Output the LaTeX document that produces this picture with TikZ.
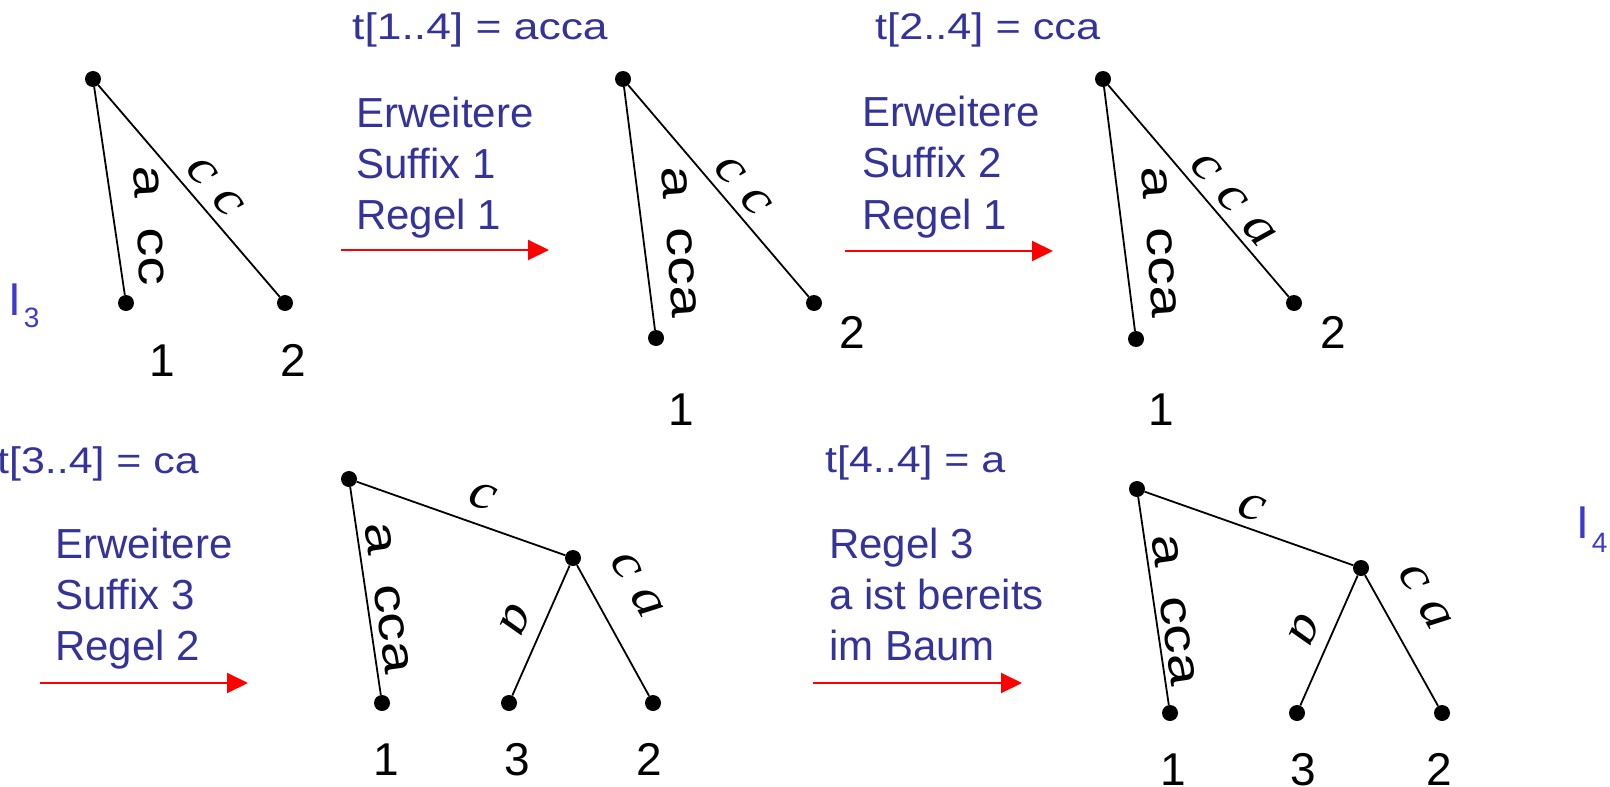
\documentclass[tikz,border=0pt]{standalone}
\usepackage{fontspec}
\setmainfont{Liberation Serif}
\newfontfamily\sansf{Liberation Sans}
\usetikzlibrary{arrows.meta}
\definecolor{txtblue}{RGB}{51,51,153}
\definecolor{idxblue}{RGB}{58,58,204}
\definecolor{arrowred}{RGB}{255,0,0}

\begin{document}
\begin{tikzpicture}[x=1pt,y=-1pt,
  dot/.style={circle,fill=black,inner sep=0pt,minimum size=16pt},
  edge/.style={line width=1.8pt},
  stepline/.style={draw=arrowred,line width=2pt,-{Triangle[length=21pt,width=20pt]}},
  hdr/.style={anchor=base west,inner sep=0pt,text=txtblue,font=\sansf\fontsize{37}{44}\selectfont},
  note/.style={anchor=base west,inner sep=0pt,text=txtblue,font=\sansf\fontsize{42}{50}\selectfont},
  leafnum/.style={anchor=base,inner sep=0pt,font=\sansf\fontsize{46}{54}\selectfont},
  vlab/.style={anchor=west,inner sep=0pt,font=\sansf\fontsize{46}{50}\selectfont},
  ilab/.style={inner sep=0pt,font=\fontsize{52}{56}\selectfont\itshape},
  idx/.style={anchor=base west,inner sep=0pt,text=idxblue,font=\sansf\fontsize{46}{50}\selectfont},
]
\useasboundingbox (0,0) rectangle (1610,787);
\clip (0,0) rectangle (1610,787);

% ---------- tree I3 ----------
\node[dot] (t1r) at (93,79) {};
\node[dot] (t1a) at (126,303) {};
\node[dot] (t1b) at (285,303) {};
\draw[edge] (t1r) -- (t1a);
\draw[edge] (t1r) -- (t1b);
\node[vlab,rotate=-87] (t1la) at (146,166) {\scalebox{1.25}[1]{a\hspace{0.52em}cc}};
\node[ilab,rotate=-49.5] (t1lb) at (215,187) {\scalebox{1.12}[1]{c c}};
\node[leafnum] (t1na) at (162,376) {1};
\node[leafnum] (t1nb) at (293,376) {2};
\node[idx] (i3) at (8,315) {I\kern3pt\raisebox{-12pt}{\fontsize{28}{30}\selectfont 3}};

% ---------- step 1 ----------
\node[hdr] (h1) at (352,39) {\scalebox{1.2}[1]{t[1..4] = acca}};
\node[note] (s1a) at (356,127) {Erweitere};
\node[note] (s1b) at (356,178) {Suffix 1};
\node[note] (s1c) at (356,229) {Regel 1};
\coordinate (a1s) at (341,250);
\coordinate (a1e) at (549,250);
\draw[stepline] (a1s) -- (a1e);

% ---------- tree after suffix 1 ----------
\node[dot] (t2r) at (623,79) {};
\node[dot] (t2a) at (656,338) {};
\node[dot] (t2b) at (814,303) {};
\draw[edge] (t2r) -- (t2a);
\draw[edge] (t2r) -- (t2b);
\node[vlab,rotate=-86] (t2la) at (674,166) {\scalebox{1.25}[1]{a\hspace{0.52em}cca}};
\node[ilab,rotate=-49.5] (t2lb) at (743,186) {\scalebox{1.12}[1]{c c}};
\node[leafnum] (t2na) at (681,425) {1};
\node[leafnum] (t2nb) at (852,348) {2};

% ---------- step 2 ----------
\node[hdr] (h2) at (875,39) {\scalebox{1.17}[1]{t[2..4] = cca}};
\node[note] (s2a) at (862,126) {Erweitere};
\node[note] (s2b) at (862,177) {Suffix 2};
\node[note] (s2c) at (862,229) {Regel 1};
\coordinate (a2s) at (845,251);
\coordinate (a2e) at (1053,251);
\draw[stepline] (a2s) -- (a2e);

% ---------- tree after suffix 2 ----------
\node[dot] (t3r) at (1103,79) {};
\node[dot] (t3a) at (1136,339) {};
\node[dot] (t3b) at (1294,303) {};
\draw[edge] (t3r) -- (t3a);
\draw[edge] (t3r) -- (t3b);
\node[vlab,rotate=-86] (t3la) at (1154,166) {\scalebox{1.25}[1]{a\hspace{0.52em}cca}};
\node[ilab,rotate=-49.5] (t3lb) at (1233,200) {\scalebox{1.12}[1]{c c a}};
\node[leafnum] (t3na) at (1161,425) {1};
\node[leafnum] (t3nb) at (1333,348) {2};

% ---------- step 3 ----------
\node[hdr] (h3) at (-3,473) {\scalebox{1.16}[1]{t[3..4] = ca}};
\node[note] (s3a) at (55,558) {Erweitere};
\node[note] (s3b) at (55,609) {Suffix 3};
\node[note] (s3c) at (55,660) {Regel 2};
\coordinate (a3s) at (40,683);
\coordinate (a3e) at (248,683);
\draw[stepline] (a3s) -- (a3e);

% ---------- tree after suffix 3 ----------
\node[dot] (t4r) at (349,479) {};
\node[dot] (t4i) at (573,558) {};
\node[dot] (t4a) at (382,703) {};
\node[dot] (t4c) at (509,703) {};
\node[dot] (t4b) at (653,703) {};
\draw[edge] (t4r) -- (t4a);
\draw[edge] (t4r) -- (t4i);
\draw[edge] (t4i) -- (t4c);
\draw[edge] (t4i) -- (t4b);
\node[vlab,rotate=-82] (t4la) at (377,523) {\scalebox{1.25}[1]{a\hspace{0.52em}cca}};
\node[ilab,rotate=-19.4] (t4li) at (483,496) {\scalebox{1.12}[1]{c}};
\node[ilab,rotate=-113.8] (t4lc) at (516,620) {\scalebox{1.12}[1]{a}};
\node[ilab,rotate=-61] (t4lb) at (637,585) {\scalebox{1.12}[1]{c a}};
\node[leafnum] (t4na) at (386,775) {1};
\node[leafnum] (t4nc) at (517,775) {3};
\node[leafnum] (t4nb) at (649,775) {2};

% ---------- step 4 ----------
\node[hdr] (h4) at (825,472) {\scalebox{1.16}[1]{t[4..4] = a}};
\node[note] (s4a) at (829,558) {Regel 3};
\node[note] (s4b) at (829,609) {a ist bereits};
\node[note] (s4c) at (829,660) {im Baum};
\coordinate (a4s) at (813,683);
\coordinate (a4e) at (1022,683);
\draw[stepline] (a4s) -- (a4e);

% ---------- tree I4 ----------
\node[dot] (t5r) at (1137,489) {};
\node[dot] (t5i) at (1361,568) {};
\node[dot] (t5a) at (1170,713) {};
\node[dot] (t5c) at (1297,713) {};
\node[dot] (t5b) at (1442,713) {};
\draw[edge] (t5r) -- (t5a);
\draw[edge] (t5r) -- (t5i);
\draw[edge] (t5i) -- (t5c);
\draw[edge] (t5i) -- (t5b);
\node[vlab,rotate=-82] (t5la) at (1163,535) {\scalebox{1.25}[1]{a\hspace{0.52em}cca}};
\node[ilab,rotate=-19.4] (t5li) at (1252,507) {\scalebox{1.12}[1]{c}};
\node[ilab,rotate=-113.8] (t5lc) at (1305,630) {\scalebox{1.12}[1]{a}};
\node[ilab,rotate=-60.8] (t5lb) at (1425,597) {\scalebox{1.12}[1]{c a}};
\node[leafnum] (t5na) at (1173,785) {1};
\node[leafnum] (t5nc) at (1303,785) {3};
\node[leafnum] (t5nb) at (1439,785) {2};
\node[idx] (i4) at (1576,538) {I\kern3pt\raisebox{-14pt}{\fontsize{28}{30}\selectfont 4}};
\end{tikzpicture}
\end{document}
